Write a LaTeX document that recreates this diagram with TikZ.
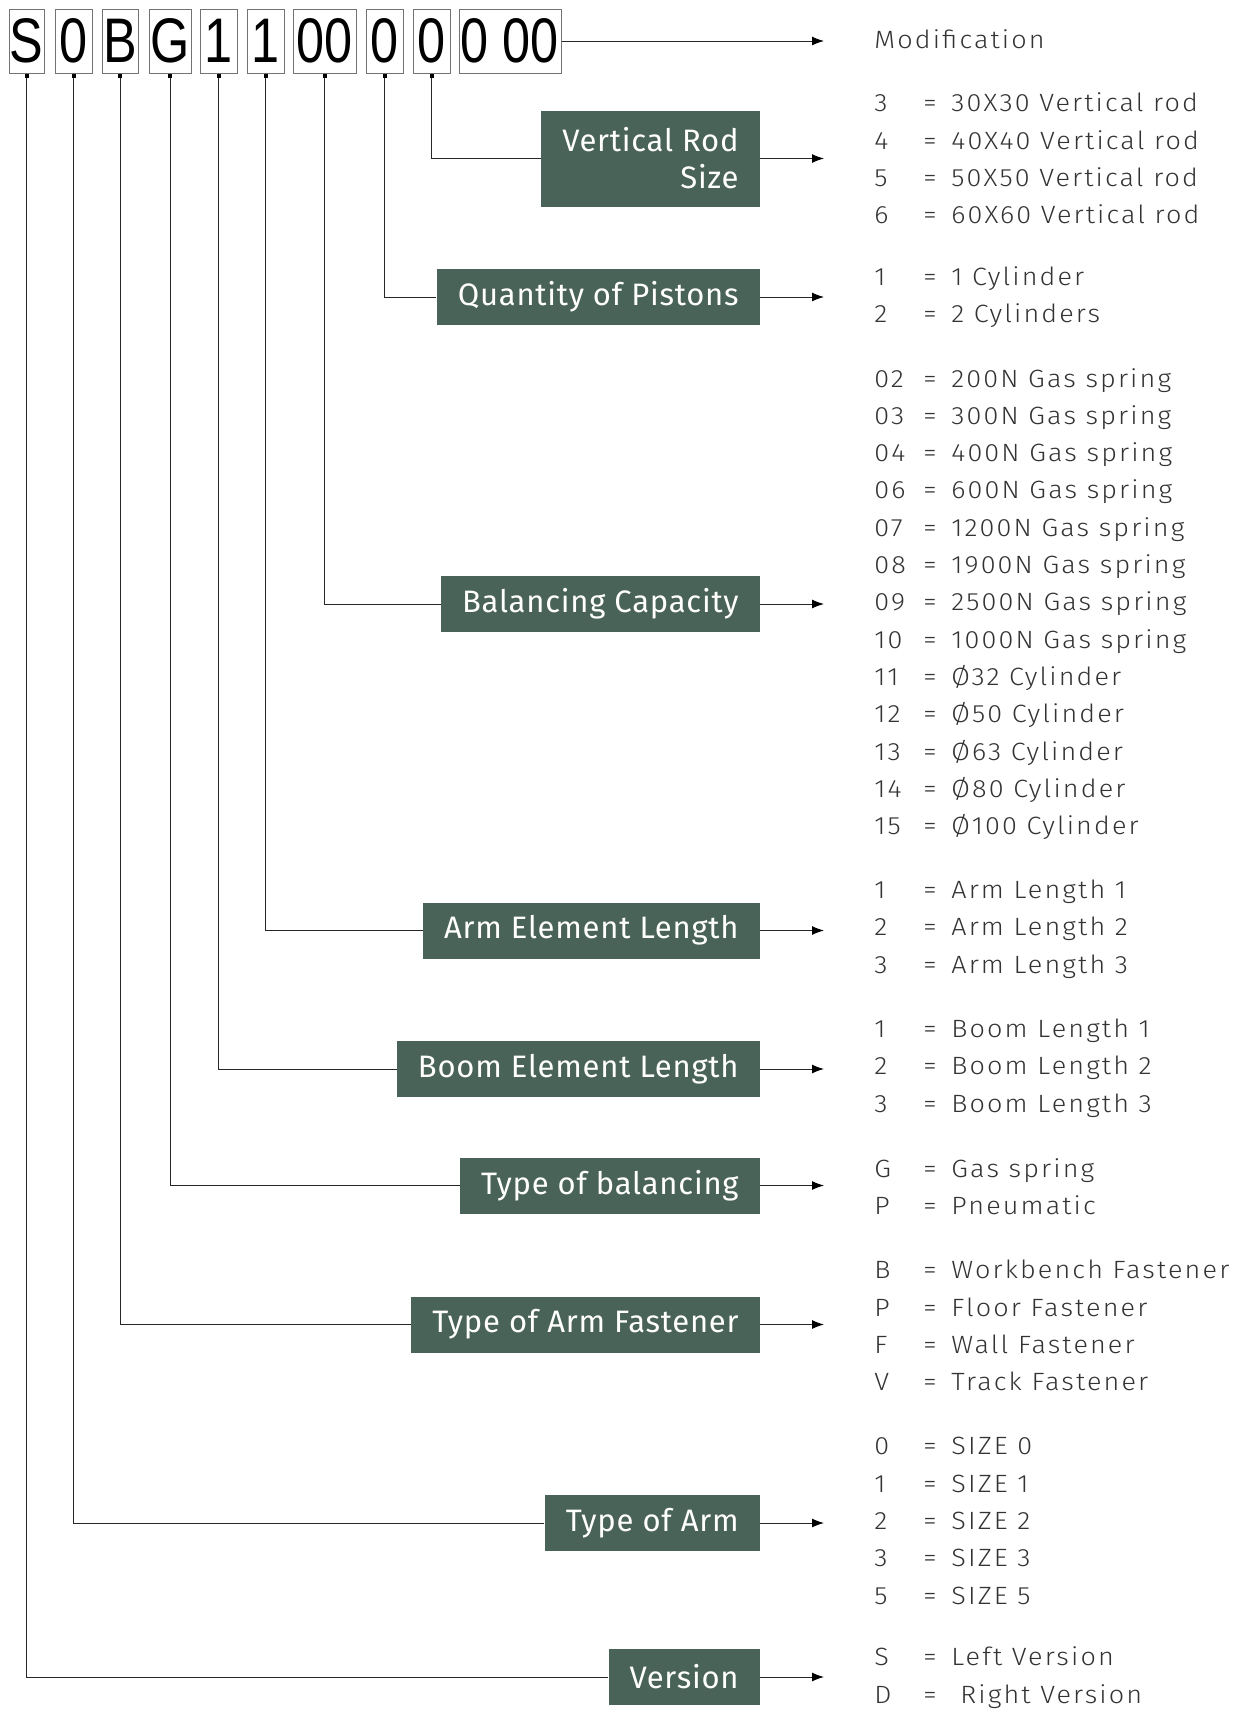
\documentclass[tikz,border=0pt]{standalone}
\usepackage{fontspec}
\setmainfont{Fira Sans Light}[LetterSpace=8.5, FakeStretch=1.08]
\newfontfamily\fieldfont{Fira Sans}[LetterSpace=2.5]
\newfontfamily\codefont{Liberation Sans}[FakeStretch=0.8]
\usetikzlibrary{arrows.meta}

\definecolor{fieldgreen}{HTML}{4A6358}
\definecolor{valuegray}{HTML}{333333}

\tikzset{
  codebox/.style={draw=black!55, line width=0.5pt, inner sep=0pt, minimum height=32pt,
    font=\codefont\fontsize{31.5}{32}\selectfont},
  fieldbox/.style={fill=fieldgreen, text=white, anchor=east, inner xsep=10.5pt,
    minimum height=28pt, font=\fieldfont\fontsize{15.5}{18.5}\selectfont},
  valuelist/.style={anchor=west, inner xsep=25pt, inner ysep=0pt, text=valuegray,
    align=left, font=\fontsize{12.5}{18.65}\selectfont},
  link/.style={draw=black!85, line width=0.5pt, {Square[length=2pt,width=2pt,black]}-},
  feed/.style={draw=black!85, line width=0.5pt, -{Latex[length=6pt,width=4.5pt,black]}},
}
\newcommand{\entry}[2]{\makebox[24.5pt][l]{#1}\makebox[14pt][l]{=}#2}

\begin{document}
\begin{tikzpicture}[x=0.5pt,y=-0.5pt]
  \useasboundingbox (0,0) rectangle (1233,1713);

  % the code itself
  \foreach \nm/\txt/\xl/\xr in {cVer/S/9/44, cArm/0/55/92, cFix/B/102/138,
      cBal/G/149/191, cBoom/1/200/237, cElem/1/247/284, cCap/00/293/356,
      cPist/0/366/403, cRod/0/413/450, cMod/0 00/459/561}{
    \pgfmathsetmacro\boxw{(\xr-\xl)*0.5}
    \node[codebox, minimum width=\boxw pt] (\nm) at ({(\xl+\xr)/2},41) {\txt};
  }

  % field names
  \node[fieldbox, minimum height=48pt, align=right] (fRod) at (760,158.5) {Vertical Rod\\Size};
  \node[fieldbox] (fPist) at (760,297) {Quantity of Pistons};
  \node[fieldbox] (fCap) at (760,604) {Balancing Capacity};
  \node[fieldbox] (fElem) at (760,930.5) {Arm Element Length};
  \node[fieldbox] (fBoom) at (760,1069) {Boom Element Length};
  \node[fieldbox] (fBal) at (760,1185.5) {Type of balancing};
  \node[fieldbox] (fFix) at (760,1324.5) {Type of Arm Fastener};
  \node[fieldbox] (fArm) at (760,1523) {Type of Arm};
  \node[fieldbox] (fVer) at (760,1677) {Version};

  % meaning of the values
  \node[valuelist] (vMod) at (824,39) {Modification};
  \node[valuelist] (vRod) at (824,158.5) {\entry{3}{30X30 Vertical rod}\\
    \entry{4}{40X40 Vertical rod}\\ \entry{5}{50X50 Vertical rod}\\
    \entry{6}{60X60 Vertical rod}};
  \node[valuelist] (vPist) at (824,297) {\entry{1}{1 Cylinder}\\ \entry{2}{2 Cylinders}};
  \node[valuelist] (vCap) at (824,604) {\entry{02}{200N Gas spring}\\
    \entry{03}{300N Gas spring}\\ \entry{04}{400N Gas spring}\\
    \entry{06}{600N Gas spring}\\ \entry{07}{1200N Gas spring}\\
    \entry{08}{1900N Gas spring}\\ \entry{09}{2500N Gas spring}\\
    \entry{10}{1000N Gas spring}\\ \entry{11}{Ø32 Cylinder}\\
    \entry{12}{Ø50 Cylinder}\\ \entry{13}{Ø63 Cylinder}\\
    \entry{14}{Ø80 Cylinder}\\ \entry{15}{Ø100 Cylinder}};
  \node[valuelist] (vElem) at (824,929) {\entry{1}{Arm Length 1}\\
    \entry{2}{Arm Length 2}\\ \entry{3}{Arm Length 3}};
  \node[valuelist] (vBoom) at (824,1068) {\entry{1}{Boom Length 1}\\
    \entry{2}{Boom Length 2}\\ \entry{3}{Boom Length 3}};
  \node[valuelist] (vBal) at (824,1187) {\entry{G}{Gas spring}\\ \entry{P}{Pneumatic}};
  \node[valuelist] (vFix) at (824,1325.5) {\entry{B}{Workbench Fastener}\\
    \entry{P}{Floor Fastener}\\ \entry{F}{Wall Fastener}\\ \entry{V}{Track Fastener}};
  \node[valuelist] (vArm) at (824,1521) {\entry{0}{SIZE 0}\\ \entry{1}{SIZE 1}\\
    \entry{2}{SIZE 2}\\ \entry{3}{SIZE 3}\\ \entry{5}{SIZE 5}};
  \node[valuelist] (vVer) at (824,1677.5) {\entry{S}{Left Version}\\
    \entry{D}{\hspace{4.5pt}Right Version}};

  % code position to field
  \foreach \c/\f in {cRod/fRod, cPist/fPist, cCap/fCap, cElem/fElem, cBoom/fBoom,
      cBal/fBal, cFix/fFix, cArm/fArm, cVer/fVer}{
    \draw[link] (\c.south) |- (\f.west);
  }

  % field to its values
  \foreach \f/\v in {fRod/vRod, fPist/vPist, fCap/vCap, fElem/vElem, fBoom/vBoom,
      fBal/vBal, fFix/vFix, fArm/vArm, fVer/vVer}{
    \draw[feed] (\f.east) -- (\f.east -| \v.west);
  }
  \draw[link, feed] (cMod.east) -- (cMod.east -| vMod.west);
\end{tikzpicture}
\end{document}
